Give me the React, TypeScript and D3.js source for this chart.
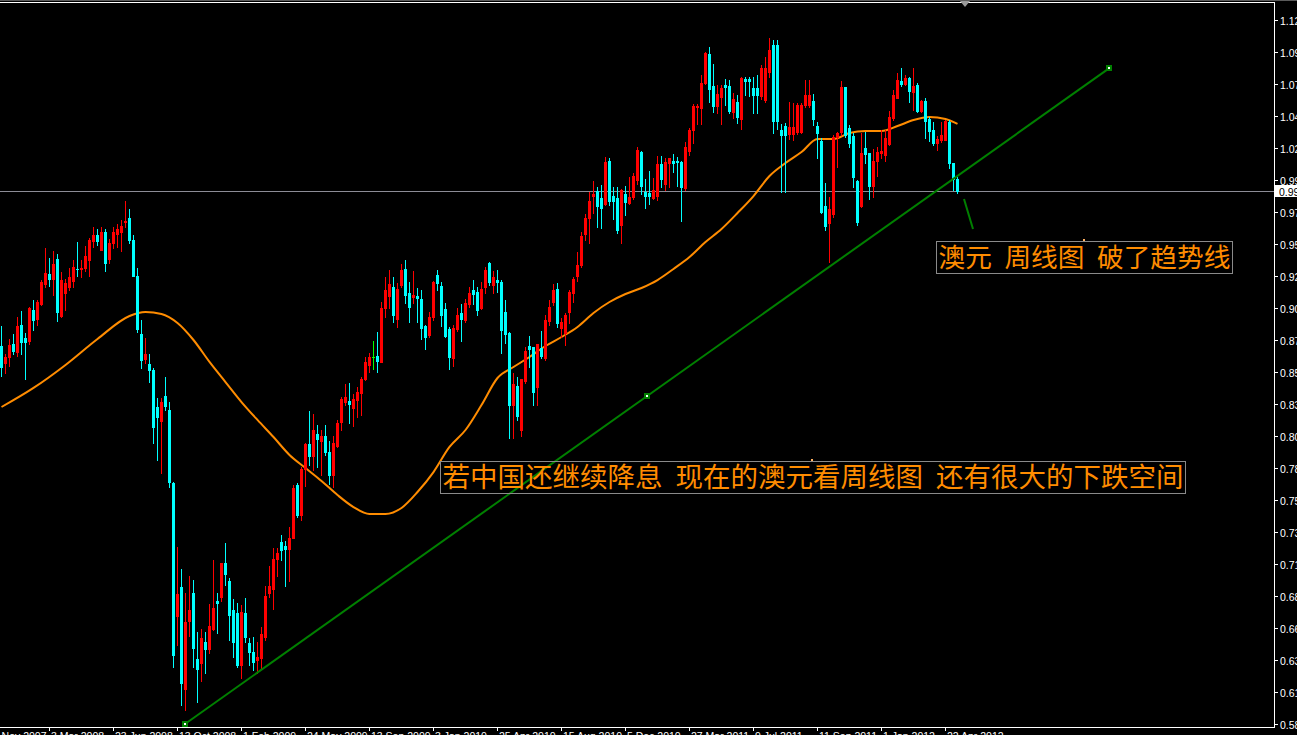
import React from "react";
import * as d3 from "d3";

const W = 1297;
const H = 735;

// Weekly AUD/USD candles (prices)
const openP = [
  0.8746, 0.8612, 0.8660, 0.8759, 0.8698, 0.8905, 0.8805, 0.8782, 0.9020, 0.8951,
  0.9066, 0.9219, 0.9295, 0.9257, 0.9410, 0.8974, 0.9150, 0.9196, 0.9242, 0.9337,
  0.9337, 0.9341, 0.9402, 0.9548, 0.9594, 0.9479, 0.9617, 0.9410, 0.9533, 0.9601,
  0.9617, 0.9693, 0.9724, 0.9556, 0.9280, 0.8836, 0.8645, 0.8606, 0.8560, 0.8277,
  0.8170, 0.8361, 0.8254, 0.7695, 0.6677, 0.6899, 0.6118, 0.6639, 0.6853, 0.6348,
  0.6317, 0.6478, 0.6424, 0.6577, 0.6792, 0.6822, 0.7083, 0.6945, 0.6723, 0.6700,
  0.6302, 0.6700, 0.6470, 0.6401, 0.6340, 0.6355, 0.6516, 0.6853, 0.6884, 0.7113,
  0.7243, 0.7213, 0.7190, 0.7274, 0.7680, 0.7450, 0.7802, 0.7994, 0.7902, 0.8070,
  0.8017, 0.8055, 0.7932, 0.7756, 0.7978, 0.8162, 0.8315, 0.8323, 0.8269, 0.8331,
  0.8384, 0.8491, 0.8599, 0.8660, 0.8668, 0.8622, 0.9035, 0.9127, 0.9196, 0.8951,
  0.9211, 0.9334, 0.9150, 0.9119, 0.9127, 0.9104, 0.8897, 0.8828, 0.8966, 0.9288,
  0.9203, 0.9027, 0.8874, 0.8652, 0.8874, 0.8997, 0.8943, 0.9066, 0.9173, 0.9157,
  0.9035, 0.9196, 0.9380, 0.9211, 0.9249, 0.9234, 0.9004, 0.8844, 0.8292, 0.8438,
  0.8101, 0.8476, 0.8744, 0.8736, 0.8430, 0.8729, 0.8652, 0.8935, 0.9081, 0.9180,
  0.8882, 0.8844, 0.9004, 0.9150, 0.9280, 0.9364, 0.9601, 0.9724, 0.9892, 0.9931,
  0.9877, 0.9831, 1.0160, 0.9892, 0.9877, 0.9670, 0.9908, 0.9839, 0.9885, 1.0015,
  1.0229, 0.9923, 0.9915, 0.9877, 0.9892, 1.0137, 0.9984, 1.0145, 1.0160, 1.0157,
  1.0153, 0.9954, 1.0237, 1.0398, 1.0574, 1.0566, 1.0758, 1.0980, 1.0735, 1.0582,
  1.0650, 1.0742, 1.0735, 1.0536, 1.0612, 1.0482, 1.0788, 1.0788, 1.0719, 1.0719,
  1.0658, 1.0627, 1.0842, 1.1048, 1.1048, 1.0398, 1.0428, 1.0367, 1.0367, 1.0382,
  1.0382, 1.0589, 1.0589, 1.0620, 1.0428, 1.0314, 0.9816, 0.9686, 0.9755, 1.0344,
  1.0382, 1.0727, 1.0413, 1.0352, 1.0007, 0.9816, 1.0260, 1.0222, 0.9969, 1.0160,
  1.0222, 1.0206, 1.0291, 1.0490, 1.0643, 1.0773, 1.0750, 1.0796, 1.0689, 1.0742,
  1.0543, 1.0620, 1.0482, 1.0398, 1.0298, 1.0321, 1.0321, 1.0459, 1.0145, 1.0023,
];

const highP = [
  0.8897, 0.8683, 0.8798, 0.8836, 0.8966, 0.9012, 0.8844, 0.9043, 0.9096, 0.9096,
  0.9249, 0.9494, 0.9418, 0.9471, 0.9448, 0.9311, 0.9257, 0.9341, 0.9402, 0.9540,
  0.9402, 0.9510, 0.9571, 0.9655, 0.9640, 0.9655, 0.9640, 0.9563, 0.9655, 0.9678,
  0.9709, 0.9854, 0.9793, 0.9594, 0.9341, 0.8943, 0.8805, 0.8683, 0.8576, 0.8346,
  0.8346, 0.8507, 0.8315, 0.7703, 0.7205, 0.7037, 0.6853, 0.6983, 0.6952, 0.6554,
  0.6577, 0.6554, 0.6769, 0.7106, 0.6853, 0.7083, 0.7236, 0.6968, 0.6807, 0.6776,
  0.6761, 0.6815, 0.6508, 0.6516, 0.6478, 0.6593, 0.6907, 0.7060, 0.7198, 0.7198,
  0.7297, 0.7251, 0.7358, 0.7680, 0.7695, 0.7818, 0.8001, 0.8246, 0.8223, 0.8139,
  0.8101, 0.8139, 0.8017, 0.8055, 0.8178, 0.8354, 0.8453, 0.8461, 0.8377, 0.8430,
  0.8507, 0.8660, 0.8690, 0.8782, 0.8851, 0.9081, 0.9272, 0.9326, 0.9272, 0.9226,
  0.9372, 0.9402, 0.9234, 0.9318, 0.9188, 0.9173, 0.8905, 0.9004, 0.9242, 0.9326,
  0.9234, 0.9073, 0.8890, 0.8905, 0.9035, 0.9066, 0.9104, 0.9196, 0.9249, 0.9196,
  0.9234, 0.9349, 0.9387, 0.9318, 0.9326, 0.9249, 0.9096, 0.8851, 0.8537, 0.8507,
  0.8491, 0.8736, 0.8821, 0.8736, 0.8759, 0.8859, 0.8981, 0.9096, 0.9219, 0.9226,
  0.8958, 0.8997, 0.9173, 0.9272, 0.9464, 0.9617, 0.9755, 0.9923, 1.0007, 0.9961,
  0.9977, 1.0191, 1.0183, 0.9961, 0.9961, 0.9946, 0.9969, 1.0038, 1.0068, 1.0268,
  1.0237, 1.0023, 1.0084, 1.0030, 1.0199, 1.0199, 1.0183, 1.0183, 1.0214, 1.0191,
  1.0160, 1.0306, 1.0413, 1.0597, 1.0597, 1.0819, 1.0995, 1.1033, 1.0903, 1.0742,
  1.0742, 1.0788, 1.0781, 1.0681, 1.0666, 1.0804, 1.0804, 1.0804, 1.0804, 1.0819,
  1.0895, 1.0957, 1.1102, 1.1087, 1.1087, 1.0444, 1.0451, 1.0612, 1.0604, 1.0604,
  1.0604, 1.0781, 1.0781, 1.0673, 1.0459, 1.0337, 0.9992, 0.9885, 1.0359, 1.0382,
  1.0773, 1.0727, 1.0436, 1.0375, 1.0015, 1.0375, 1.0382, 1.0222, 1.0252, 1.0268,
  1.0398, 1.0398, 1.0543, 1.0704, 1.0834, 1.0872, 1.0819, 1.0804, 1.0872, 1.0758,
  1.0627, 1.0643, 1.0497, 1.0459, 1.0352, 1.0459, 1.0474, 1.0474, 1.0145, 1.0038,
];

const lowP = [
  0.8514, 0.8537, 0.8591, 0.8683, 0.8668, 0.8683, 0.8491, 0.8759, 0.8867, 0.8905,
  0.9058, 0.9196, 0.9203, 0.9135, 0.8935, 0.8966, 0.9020, 0.9173, 0.9196, 0.9280,
  0.9272, 0.9318, 0.9280, 0.9502, 0.9517, 0.9479, 0.9318, 0.9380, 0.9494, 0.9502,
  0.9471, 0.9655, 0.9533, 0.9280, 0.8851, 0.8576, 0.8614, 0.8468, 0.8001, 0.7871,
  0.7772, 0.8254, 0.7665, 0.6286, 0.6455, 0.5995, 0.5957, 0.6524, 0.6286, 0.6018,
  0.6179, 0.6240, 0.6394, 0.6570, 0.6547, 0.6792, 0.6914, 0.6493, 0.6363, 0.6286,
  0.6202, 0.6478, 0.6302, 0.6263, 0.6240, 0.6279, 0.6493, 0.6822, 0.6730, 0.6983,
  0.7106, 0.6907, 0.6945, 0.7274, 0.7435, 0.7412, 0.7672, 0.7833, 0.7795, 0.7818,
  0.7756, 0.7910, 0.7688, 0.7665, 0.7971, 0.8101, 0.8292, 0.8155, 0.8132, 0.8200,
  0.8216, 0.8484, 0.8545, 0.8568, 0.8545, 0.8622, 0.8966, 0.9035, 0.8928, 0.8890,
  0.9196, 0.9073, 0.8928, 0.9073, 0.8928, 0.8798, 0.8721, 0.8813, 0.8943, 0.9173,
  0.8897, 0.8813, 0.8568, 0.8591, 0.8859, 0.8782, 0.8928, 0.9043, 0.9066, 0.8981,
  0.9027, 0.9150, 0.9211, 0.9150, 0.9157, 0.8690, 0.8767, 0.8040, 0.8040, 0.8178,
  0.8055, 0.8461, 0.8583, 0.8292, 0.8292, 0.8652, 0.8637, 0.8905, 0.9058, 0.8890,
  0.8813, 0.8752, 0.8920, 0.9081, 0.9242, 0.9349, 0.9556, 0.9533, 0.9762, 0.9655,
  0.9647, 0.9823, 0.9823, 0.9716, 0.9609, 0.9533, 0.9747, 0.9831, 0.9870, 0.9984,
  0.9908, 0.9801, 0.9831, 0.9870, 0.9862, 0.9961, 0.9938, 0.9961, 1.0076, 0.9969,
  0.9701, 0.9938, 1.0206, 1.0298, 1.0444, 1.0444, 1.0750, 1.0612, 1.0536, 1.0528,
  1.0444, 1.0589, 1.0528, 1.0490, 1.0451, 1.0405, 1.0666, 1.0658, 1.0528, 1.0528,
  1.0635, 1.0612, 1.0804, 1.0375, 1.0405, 0.9923, 0.9923, 1.0329, 1.0321, 1.0367,
  1.0375, 1.0574, 1.0574, 1.0436, 1.0183, 0.9762, 0.9632, 0.9387, 0.9732, 1.0114,
  1.0359, 1.0344, 1.0268, 0.9961, 0.9670, 0.9808, 1.0145, 0.9870, 0.9885, 1.0046,
  1.0183, 1.0160, 1.0283, 1.0474, 1.0643, 1.0735, 1.0742, 1.0612, 1.0551, 1.0536,
  1.0536, 1.0337, 1.0314, 1.0283, 1.0245, 1.0306, 1.0321, 1.0107, 0.9938, 0.9915,
];

const closeP = [
  0.8586, 0.8662, 0.8752, 0.8706, 0.8897, 0.8775, 0.8775, 0.9035, 0.8943, 0.9081,
  0.9234, 0.9303, 0.9257, 0.9372, 0.9004, 0.9249, 0.9226, 0.9272, 0.9349, 0.9330,
  0.9345, 0.9433, 0.9556, 0.9594, 0.9548, 0.9617, 0.9380, 0.9533, 0.9617, 0.9640,
  0.9663, 0.9701, 0.9556, 0.9280, 0.8874, 0.8637, 0.8683, 0.8560, 0.8124, 0.8200,
  0.8315, 0.8285, 0.7703, 0.6378, 0.6845, 0.6164, 0.6631, 0.6723, 0.6432, 0.6271,
  0.6508, 0.6424, 0.6600, 0.6738, 0.6776, 0.7083, 0.6998, 0.6685, 0.6478, 0.6302,
  0.6708, 0.6516, 0.6401, 0.6325, 0.6363, 0.6539, 0.6830, 0.6907, 0.7113, 0.7159,
  0.7182, 0.7190, 0.7274, 0.7657, 0.7450, 0.7802, 0.7994, 0.7902, 0.8101, 0.8032,
  0.8055, 0.7932, 0.7756, 0.8001, 0.8155, 0.8338, 0.8354, 0.8300, 0.8338, 0.8392,
  0.8491, 0.8622, 0.8660, 0.8660, 0.8629, 0.9035, 0.9173, 0.9219, 0.8981, 0.9180,
  0.9326, 0.9135, 0.9043, 0.9135, 0.9112, 0.8882, 0.8813, 0.8966, 0.9234, 0.9226,
  0.8981, 0.8821, 0.8660, 0.8882, 0.8981, 0.8951, 0.9073, 0.9150, 0.9142, 0.9020,
  0.9180, 0.9326, 0.9234, 0.9272, 0.9234, 0.8867, 0.8836, 0.8292, 0.8453, 0.8208,
  0.8491, 0.8706, 0.8721, 0.8392, 0.8759, 0.8668, 0.8943, 0.9043, 0.9173, 0.8920,
  0.8928, 0.8981, 0.9157, 0.9257, 0.9364, 0.9586, 0.9724, 0.9854, 0.9908, 0.9816,
  0.9801, 1.0153, 0.9854, 0.9854, 0.9632, 0.9938, 0.9846, 0.9885, 1.0046, 1.0245,
  0.9969, 0.9892, 0.9892, 0.9938, 1.0137, 1.0023, 1.0153, 1.0183, 1.0145, 1.0149,
  0.9961, 1.0268, 1.0398, 1.0582, 1.0582, 1.0758, 1.0987, 1.0712, 1.0582, 1.0673,
  1.0719, 1.0727, 1.0543, 1.0635, 1.0497, 1.0796, 1.0773, 1.0773, 1.0666, 1.0666,
  1.0872, 1.0872, 1.1010, 1.0467, 1.0467, 1.0359, 1.0359, 1.0421, 1.0421, 1.0589,
  1.0589, 1.0666, 1.0666, 1.0482, 1.0375, 0.9770, 0.9663, 0.9793, 1.0344, 1.0375,
  1.0727, 1.0359, 1.0298, 1.0038, 0.9693, 1.0222, 1.0214, 0.9969, 1.0160, 1.0229,
  1.0237, 1.0337, 1.0497, 1.0666, 1.0781, 1.0750, 1.0796, 1.0696, 1.0735, 1.0543,
  1.0620, 1.0467, 1.0390, 1.0298, 1.0329, 1.0359, 1.0467, 1.0145, 1.0023, 0.9931,
];

// Moving average (orange), read at these bar indices
const maBars = [
  0, 8, 16, 24, 32, 36, 40, 44, 48, 52, 56, 60, 64, 68, 72, 76, 80, 84, 88, 92,
  96, 100, 104, 108, 112, 116, 120, 124, 128, 132, 136, 140, 144, 148, 152, 156,
  160, 164, 168, 172, 176, 180, 184, 188, 192, 196, 200, 204, 208, 212, 216, 220,
  224, 228, 232, 236, 239,
];
const maValues = [
  0.8277, 0.8423, 0.8599, 0.8798, 0.8974, 0.9004, 0.8989, 0.8920, 0.8790, 0.8622,
  0.8468, 0.8315, 0.8178, 0.8047, 0.7910, 0.7810, 0.7711, 0.7603, 0.7511, 0.7458,
  0.7458, 0.7504, 0.7626, 0.7779, 0.7971, 0.8101, 0.8292, 0.8499, 0.8583, 0.8660,
  0.8744, 0.8813, 0.8890, 0.8997, 0.9081, 0.9142, 0.9188, 0.9249, 0.9334, 0.9425,
  0.9540, 0.9640, 0.9762, 0.9892, 1.0046, 1.0145, 1.0229, 1.0329, 1.0329, 1.0375,
  1.0390, 1.0390, 1.0428, 1.0474, 1.0497, 1.0482, 1.0444,
];

// Price axis
const priceTickLabels = [
  "0.58", "0.61", "0.63", "0.66", "0.68", "0.71", "0.73", "0.75", "0.78", "0.80",
  "0.83", "0.85", "0.87", "0.90", "0.92", "0.95", "0.97", "0.99", "1.02", "1.04",
  "1.07", "1.09", "1.12",
];
const PRICE_BASE = 0.585;
const PRICE_STEP = 0.0245;

// Time axis
const dateTickBars = [-4, 12, 28, 44, 60, 76, 92, 108, 124, 140, 156, 172, 188, 204, 220, 236];
const dateTickLabels = [
  "12 Nov 2007", "3 Mar 2008", "23 Jun 2008", "13 Oct 2008", "1 Feb 2009", "24 May 2009",
  "13 Sep 2009", "3 Jan 2010", "25 Apr 2010", "15 Aug 2010", "5 Dec 2010", "27 Mar 2011",
  "9 Jul 2011", "11 Sep 2011", "1 Jan 2012", "22 Apr 2012",
];

// Drawn objects
const trendBars = [46, 277];
const trendPrices = [0.585, 1.087];
const arrowBars = [240.75, 243];
const arrowPrices = [0.9869, 0.964];

const note1Segments = ["澳元", "周线图", "破了趋势线"];
const note2Segments = ["若中国还继续降息", "现在的澳元看周线图", "还有很大的下跌空间"];
const noteAnchorBars = [270.75, 202.75];
const noteAnchorPrices = [0.9556, 0.7872];

const BULL = "#ff0000";
const BEAR = "#00ffff";
const DOJI = "#00ff00";
const MA_COLOR = "#ff8c00";
const TREND_COLOR = "#008000";
const TEXT_COLOR = "#ff8c00";
const AXIS_FONT = "'Liberation Sans', Arial, sans-serif";
const CJK_FONT = "'Noto Sans CJK SC', sans-serif";

const PLOT_RIGHT = 1274.5;
const PLOT_BOTTOM = 727.5;
const PLOT_TOP = 2.5;

function Note({ ax, ay, segments, pitch, space }: { ax: number; ay: number; segments: string[]; pitch: number; space: number }) {
  const widths = segments.map((s) => Array.from(s).length * pitch);
  const textW = widths.reduce((a, b) => a + b, 0) + space * (segments.length - 1);
  const boxW = textW + 4;
  const left = Math.round(ax - boxW / 2) + 0.5;
  const top = Math.round(ay) + 1.5;
  let cx = left + 2;
  const items = segments.map((s, k) => {
    const el = (
      <text key={k} x={cx} y={top + 25.5} fontSize={pitch} fill={TEXT_COLOR} fontFamily={CJK_FONT}>
        {s}
      </text>
    );
    cx += widths[k] + space;
    return el;
  });
  return (
    <g>
      <rect x={left} y={top} width={boxW} height={32} fill="none" stroke="#8a8a8a" strokeWidth={1} />
      {items}
      <rect x={Math.round(ax) - 1} y={Math.round(ay) - 1} width={2} height={2} fill="#ffb060" />
    </g>
  );
}

export default function App() {
  const x = d3.scaleLinear().domain([0, 1]).range([0, 4]);
  const y = d3
    .scaleLinear()
    .domain([PRICE_BASE, PRICE_BASE + (priceTickLabels.length - 1) * PRICE_STEP])
    .range([724, 20]);

  const candles = openP.map((o, i) => {
    const c = closeP[i];
    const hi = Math.max(highP[i], o, c);
    const lo = Math.min(lowP[i], o, c);
    const color = c > o ? BULL : c < o ? BEAR : DOJI;
    const yTop = Math.round(y(Math.max(o, c)));
    const yBot = Math.round(y(Math.min(o, c)));
    const yH = Math.round(y(hi));
    const yL = Math.round(y(lo));
    return (
      <g key={i} fill={color}>
        <rect x={x(i) + 1} y={yH} width={1} height={Math.max(1, yL - yH + 1)} />
        <rect x={x(i)} y={yTop} width={3} height={Math.max(1, yBot - yTop + 1)} />
      </g>
    );
  });

  const maLine = d3
    .line<number>()
    .x((_, k) => x(maBars[k]) + 1.5)
    .y((v) => y(v))
    .curve(d3.curveMonotoneX)(maValues) as string;

  const tx = trendBars.map((b) => x(b) + 1);
  const ty = trendPrices.map((p) => y(p));
  const markers = [
    [tx[0], ty[0]],
    [(tx[0] + tx[1]) / 2, (ty[0] + ty[1]) / 2],
    [tx[1], ty[1]],
  ];

  const lastClose = closeP[closeP.length - 1];
  const bidY = Math.round(y(lastClose)) + 0.5;
  const shiftX = x(openP.length) + 5;

  return (
    <svg
      width={W}
      height={H}
      style={{ position: "fixed", left: 0, top: 0, display: "block", background: "#000" }}
      xmlns="http://www.w3.org/2000/svg"
    >
      <rect x={0} y={0} width={W} height={H} fill="#000" />
      <rect x={0} y={0} width={W} height={1} fill="#5a5a5a" />

      {/* bid line */}
      <line x1={0} x2={PLOT_RIGHT} y1={bidY} y2={bidY} stroke="#8c8c96" strokeWidth={1} shapeRendering="crispEdges" />

      {/* moving average */}
      <path d={maLine} fill="none" stroke={MA_COLOR} strokeWidth={2} />

      {/* candles */}
      <g shapeRendering="crispEdges">{candles}</g>

      {/* trend line */}
      <line x1={tx[0]} y1={ty[0]} x2={tx[1]} y2={ty[1]} stroke={TREND_COLOR} strokeWidth={2} />
      {markers.map(([mx, my], k) => (
        <g key={k} shapeRendering="crispEdges">
          <rect x={Math.round(mx) - 3} y={Math.round(my) - 3} width={6} height={6} fill={TREND_COLOR} />
          <rect x={Math.round(mx) - 1} y={Math.round(my) - 1} width={2} height={2} fill="#ffffff" />
        </g>
      ))}

      {/* arrow stroke under the first note */}
      <line
        x1={x(arrowBars[0]) + 1}
        y1={y(arrowPrices[0])}
        x2={x(arrowBars[1]) + 1}
        y2={y(arrowPrices[1])}
        stroke={TREND_COLOR}
        strokeWidth={2}
      />

      {/* notes */}
      <Note ax={x(noteAnchorBars[0]) + 1} ay={y(noteAnchorPrices[0])} segments={note1Segments} pitch={26.7} space={12.5} />
      <Note ax={x(noteAnchorBars[1]) + 1} ay={y(noteAnchorPrices[1])} segments={note2Segments} pitch={27.5} space={13} />

      {/* frame */}
      <g stroke="#ffffff" strokeWidth={1} shapeRendering="crispEdges">
        <line x1={0} x2={PLOT_RIGHT} y1={PLOT_TOP} y2={PLOT_TOP} />
        <line x1={PLOT_RIGHT} x2={PLOT_RIGHT} y1={PLOT_TOP} y2={PLOT_BOTTOM} />
        <line x1={0} x2={PLOT_RIGHT} y1={PLOT_BOTTOM} y2={PLOT_BOTTOM} />
      </g>

      {/* chart shift marker */}
      <polygon points={`${shiftX - 5},1 ${shiftX + 5},1 ${shiftX},7`} fill="#9a9a9a" />

      {/* price axis */}
      {priceTickLabels.map((lab, k) => {
        const ty2 = Math.round(y(PRICE_BASE + k * PRICE_STEP)) + 0.5;
        return (
          <g key={k}>
            <line x1={1275} x2={1278} y1={ty2} y2={ty2} stroke="#fff" shapeRendering="crispEdges" />
            <text x={1280} y={ty2 + 4} fontSize={10.5} fill="#fff" fontFamily={AXIS_FONT}>
              {lab}
            </text>
          </g>
        );
      })}

      {/* bid label */}
      <rect x={1275} y={bidY - 6.5} width={W - 1275} height={12} fill="#ffffff" />
      <text x={1279} y={bidY + 4} fontSize={10.5} fill="#000" fontFamily={AXIS_FONT}>
        {lastClose.toFixed(4)}
      </text>

      {/* time axis */}
      {dateTickBars.map((b, k) => {
        const px = x(b) + 1.5;
        return (
          <g key={k}>
            <line x1={px} x2={px} y1={PLOT_BOTTOM} y2={731} stroke="#fff" shapeRendering="crispEdges" />
            <text x={px + 1.5} y={740} fontSize={10.5} fill="#fff" fontFamily={AXIS_FONT}>
              {dateTickLabels[k]}
            </text>
          </g>
        );
      })}
    </svg>
  );
}
